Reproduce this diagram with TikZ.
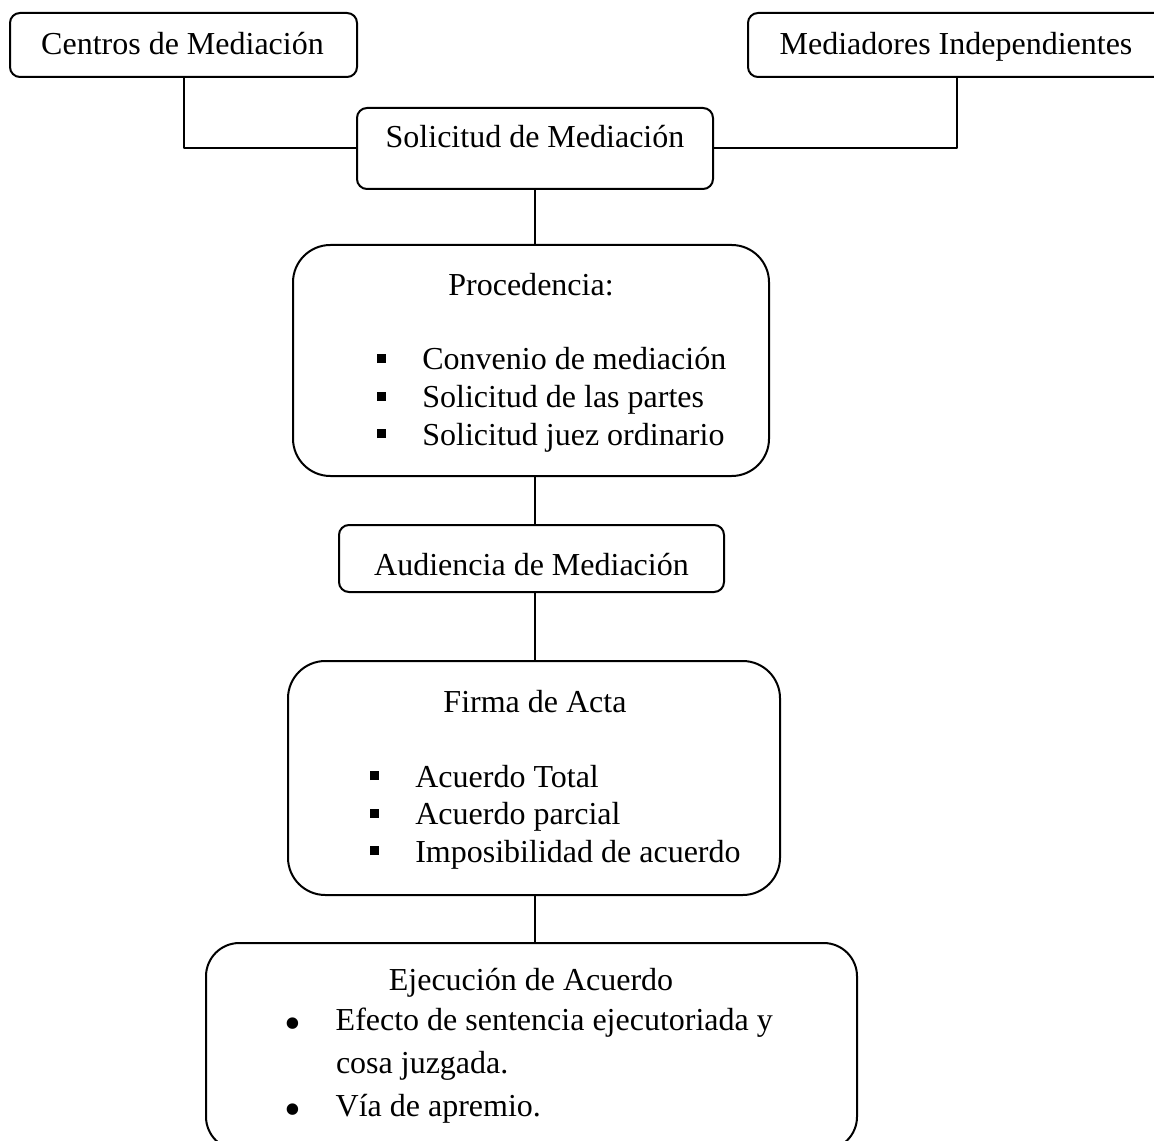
\documentclass[tikz,border=0pt]{standalone}
\usepackage{graphicx}
\usepackage{fontspec}
\setmainfont{Liberation Serif}
\usetikzlibrary{fit}
\newcommand{\cuadrito}{\makebox[17pt][l]{\raisebox{2.6pt}{\rule{3.4pt}{3.4pt}}}}
\newcommand{\puntito}{\makebox[19.2pt][l]{\raisebox{-3.4pt}{\scalebox{1.5}{•}}}}

\begin{document}
\begin{tikzpicture}[x=0.375pt, y=-0.375pt, line width=0.75pt, line join=round, line cap=round,
		font=\fontsize{12}{14}\selectfont,
		caja/.style={draw, rounded corners=3.75pt, inner sep=0pt},
		cajagrande/.style={draw, rounded corners=14pt, inner sep=0pt},
		titulo/.style={anchor=base, inner sep=0pt},
		item/.style={anchor=base west, inner sep=0pt}]
	\useasboundingbox (0,0) rectangle (1154,1140);
	\clip (0,0) rectangle (1154,1140);
	
	% cajas
	\node[caja, fit={(10,13) (357,77)}] (centros) {};
	\node[caja, fit={(748,13) (1166,77)}] (mediadores) {};
	\node[caja, fit={(357,108) (713,189)}] (solicitud) {};
	\node[cajagrande, fit={(293,245) (769,476)}] (procedencia) {};
	\node[caja, fit={(339,525) (724,592)}] (audiencia) {};
	\node[cajagrande, fit={(288,661) (780,895)}] (firma) {};
	\node[cajagrande, rounded corners=12.5pt, fit={(206,943) (857,1150)}] (ejecucion) {};
	
	% textos
	\node[titulo] (centros-txt) at (182.5,55) {Centros de Mediación};
	\node[titulo] (mediadores-txt) at (956,55) {Mediadores Independientes};
	\node[titulo] (solicitud-txt) at (535,148) {Solicitud de Mediación};
	
	\node[titulo] (procedencia-txt) at (531,296) {Procedencia:};
	\node[item] (convenio) at (376,370) {\cuadrito Convenio de mediación};
	\node[item] (partes) at (376,407.5) {\cuadrito Solicitud de las partes};
	\node[item] (juez) at (376,445) {\cuadrito Solicitud juez ordinario};
	
	\node[titulo] (audiencia-txt) at (531.5,575) {Audiencia de Mediación};
	
	\node[titulo] (firma-txt) at (535,712) {Firma de Acta};
	\node[item] (total) at (369,787) {\cuadrito Acuerdo Total};
	\node[item] (parcial) at (369,824.5) {\cuadrito Acuerdo parcial};
	\node[item] (imposible) at (369,862) {\cuadrito Imposibilidad de acuerdo};
	
	\node[titulo] (ejecucion-txt) at (531,990) {Ejecución de Acuerdo};
	\node[item] (efecto) at (283.5,1030) {\puntito Efecto de sentencia ejecutoriada y};
	\node[item] (cosa) at (335,1073) {cosa juzgada.};
	\node[item] (apremio) at (283.5,1116) {\puntito Vía de apremio.};
	
	% conectores
	\draw (centros.south) |- (solicitud.west);
	\draw (mediadores.south) |- (solicitud.east);
	\draw (solicitud.south) -- (solicitud.south |- procedencia.north);
	\draw (procedencia.south -| solicitud.south) -- (audiencia.north -| solicitud.south);
	\draw (audiencia.south -| solicitud.south) -- (firma.north -| solicitud.south);
	\draw (firma.south -| solicitud.south) -- (ejecucion.north -| solicitud.south);
\end{tikzpicture}
\end{document}
